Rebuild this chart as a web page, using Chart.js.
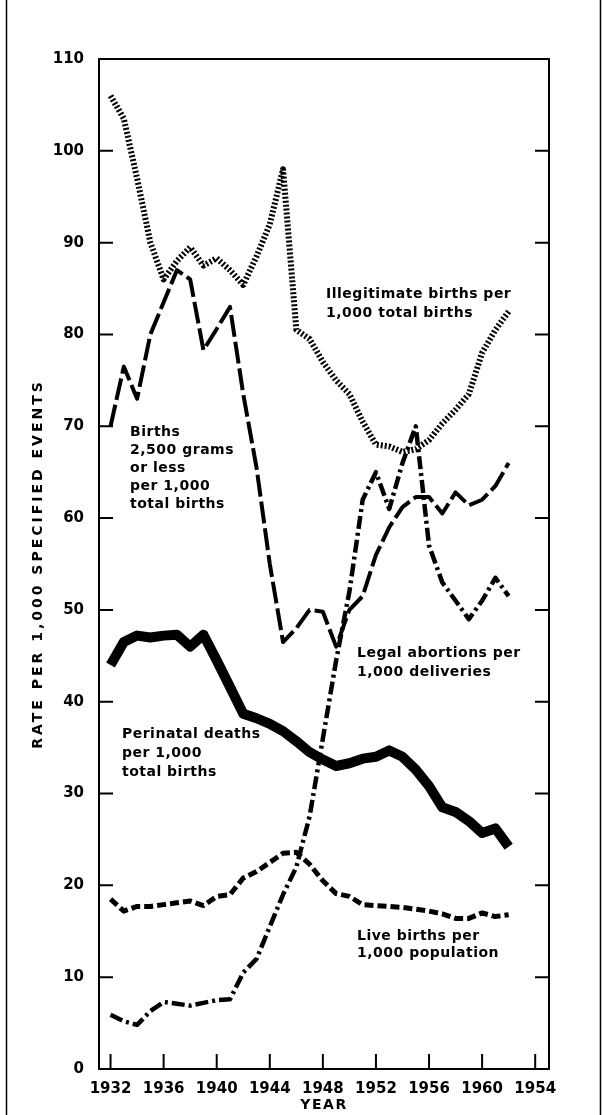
<!DOCTYPE html>
<html>
<head>
<meta charset="utf-8">
<script src="https://cdn.jsdelivr.net/npm/chart.js@4.4.0/dist/chart.umd.min.js"></script>
<style>
html, body { margin: 0; padding: 0; background: #fff; }
</style>
</head>
<body>
<canvas id="rateChart" width="603" height="1115"></canvas>
<script>
// yearly values
const years = [1932, 1933, 1934, 1935, 1936, 1937, 1938, 1939, 1940, 1941, 1942, 1943, 1944, 1945, 1946, 1947,
	1948, 1949, 1950, 1951, 1952, 1953, 1954, 1955, 1956, 1957, 1958, 1959, 1960, 1961, 1962];

const illegitimate = [106, 103.5, 97, 90, 86, 88, 89.5, 87.5, 88.3, 87, 85.4, 88.5, 92, 98, 80.5, 79.5,
	77, 75, 73.5, 70.5, 68, 67.8, 67.2, 67.5, 68.5, 70.3, 71.8, 73.5, 78, 80.5, 82.5];

const lowWeight = [70, 76.5, 73, 80, 83.5, 87, 86, 78.3, 80.6, 83, 73.5, 65.5, 55, 46.5, 48, 50,
	49.8, 46, 50, 51.5, 56, 59, 61.2, 62.3, 62.3, 60.5, 62.8, 61.4, 62, 63.5, 66];

const perinatal = [44, 46.5, 47.2, 47, 47.2, 47.3, 46, 47.3, 44.5, 41.6, 38.7, 38.2, 37.6, 36.8, 35.7, 34.5,
	33.7, 33, 33.3, 33.8, 34, 34.7, 34, 32.6, 30.8, 28.5, 28, 27, 25.7, 26.2, 24.2];

const abortions = [5.9, 5.2, 4.8, 6.3, 7.3, 7.1, 6.9, 7.2, 7.5, 7.6, 10.5, 12, 15.5, 19, 22, 27.5,
	36, 44.5, 52, 62, 65, 61, 66, 70, 57, 53, 51, 49, 51, 53.5, 51.5];

const liveBirths = [18.5, 17.2, 17.7, 17.7, 17.9, 18.1, 18.3, 17.8, 18.8, 19.0, 20.8, 21.5, 22.5, 23.5, 23.6, 22.3,
	20.5, 19.1, 18.8, 17.9, 17.8, 17.7, 17.6, 17.4, 17.2, 16.9, 16.4, 16.4, 17.0, 16.6, 16.8];

const xTicks = [1932, 1936, 1940, 1944, 1948, 1952, 1956, 1960, 1964];
const xTickLabels = ['1932', '1936', '1940', '1944', '1948', '1952', '1956', '1960', '1954'];
const yTicks = [0, 10, 20, 30, 40, 50, 60, 70, 80, 90, 100, 110];

// text placed beside the curves (year, rate of first line)
const notes = [
	{ lines: ['Illegitimate births per', '1,000 total births'], x: 1948.24, y: 84.4, gap: 19 },
	{ lines: ['Births', '2,500 grams', 'or less', 'per 1,000', 'total births'], x: 1933.47, y: 69.3, gap: 18 },
	{ lines: ['Perinatal deaths', 'per 1,000', 'total births'], x: 1932.86, y: 36.4, gap: 19 },
	{ lines: ['Legal abortions per', '1,000 deliveries'], x: 1950.57, y: 45.3, gap: 19 },
	{ lines: ['Live births per', '1,000 population'], x: 1950.57, y: 14.4, gap: 17 },
];

const FONT = '"DejaVu Sans", sans-serif';

function series(values) {
	return years.map((yr, i) => ({ x: yr, y: values[i] }));
}

const frame = {
	id: 'frame',
	afterDraw(chart) {
		const { ctx, chartArea: { top, bottom, left, right }, scales: { x, y } } = chart;
		ctx.save();
		ctx.strokeStyle = '#000';
		ctx.lineWidth = 2;
		ctx.lineCap = 'butt';

		// top and right edges of the plot box
		ctx.beginPath();
		ctx.moveTo(left, top);
		ctx.lineTo(right, top);
		ctx.lineTo(right, bottom);
		ctx.stroke();

		// inward tick marks
		yTicks.forEach((v) => {
			if (v === 0 || v === 110) return;
			const py = y.getPixelForValue(v);
			ctx.beginPath();
			ctx.moveTo(left, py);
			ctx.lineTo(left + 14, py);
			ctx.moveTo(right, py);
			ctx.lineTo(right - 14, py);
			ctx.stroke();
		});
		xTicks.forEach((v) => {
			const px = x.getPixelForValue(v);
			ctx.beginPath();
			ctx.moveTo(px, bottom);
			ctx.lineTo(px, bottom - 15);
			ctx.stroke();
		});

		// page border
		ctx.lineWidth = 1.5;
		ctx.beginPath();
		ctx.moveTo(6.5, 0);
		ctx.lineTo(6.5, 1115);
		ctx.moveTo(600.5, 0);
		ctx.lineTo(600.5, 1115);
		ctx.stroke();

		// notes
		ctx.fillStyle = '#000';
		ctx.font = 'bold 14px ' + FONT;
		ctx.textAlign = 'left';
		ctx.textBaseline = 'middle';
		ctx.letterSpacing = '0.5px';
		notes.forEach((n) => {
			const px = x.getPixelForValue(n.x);
			const py = y.getPixelForValue(n.y);
			n.lines.forEach((line, i) => ctx.fillText(line, px, py + i * n.gap));
		});

		// axis titles
		ctx.font = 'bold 14px ' + FONT;
		ctx.letterSpacing = '1.5px';
		ctx.textAlign = 'center';
		ctx.fillText('YEAR', (left + right) / 2, 1105);
		ctx.letterSpacing = '3px';
		ctx.translate(38, (top + bottom) / 2);
		ctx.rotate(-Math.PI / 2);
		ctx.fillText('RATE PER 1,000 SPECIFIED EVENTS', 0, 0);
		ctx.restore();
	},
};

const data = {
	datasets: [
		{
			label: 'Illegitimate births per 1,000 total births',
			data: series(illegitimate),
			borderColor: '#000',
			borderWidth: 6,
			borderDash: [2, 2],
		},
		{
			label: 'Births 2,500 grams or less per 1,000 total births',
			data: series(lowWeight),
			borderColor: '#000',
			borderWidth: 4,
			borderDash: [22, 5],
		},
		{
			label: 'Perinatal deaths per 1,000 total births',
			data: series(perinatal),
			borderColor: '#000',
			borderWidth: 10,
		},
		{
			label: 'Legal abortions per 1,000 deliveries',
			data: series(abortions),
			borderColor: '#000',
			borderWidth: 4.5,
			borderDash: [13, 4, 3, 4],
		},
		{
			label: 'Live births per 1,000 population',
			data: series(liveBirths),
			borderColor: '#000',
			borderWidth: 5,
			borderDash: [9, 4],
		},
	],
};

const chartConfig = {
	type: 'line',
	data,
	options: {
		responsive: false,
		animation: false,
		devicePixelRatio: 1,
		elements: {
			point: { radius: 0 },
			line: { tension: 0, borderJoinStyle: 'round', borderCapStyle: 'butt', fill: false },
		},
		layout: { padding: { top: 59, right: 54, left: 0, bottom: 0 } },
		plugins: {
			legend: { display: false },
			tooltip: { enabled: false },
		},
		scales: {
			x: {
				type: 'linear',
				min: 1931.13,
				max: 1965.04,
				afterBuildTicks: (scale) => {
					scale.ticks = xTicks.map((v) => ({ value: v }));
				},
				afterFit: (scale) => {
					scale.height = 46;
				},
				grid: { display: false },
				border: { display: true, color: '#000', width: 2 },
				ticks: {
					autoSkip: false,
					maxRotation: 0,
					padding: 3,
					color: '#000',
					font: { family: FONT, size: 15, weight: 'bold' },
					callback: (v, i) => xTickLabels[i],
				},
			},
			y: {
				min: 0,
				max: 110,
				afterBuildTicks: (scale) => {
					scale.ticks = yTicks.map((v) => ({ value: v }));
				},
				afterFit: (scale) => {
					scale.width = 99;
				},
				grid: { display: false },
				border: { display: true, color: '#000', width: 2 },
				ticks: {
					padding: 7,
					color: '#000',
					font: { family: FONT, size: 15, weight: 'bold' },
				},
			},
		},
	},
	plugins: [frame],
};

const ctx = document.getElementById('rateChart');
const rateChart = new Chart(ctx, chartConfig);
</script>
</body>
</html>
